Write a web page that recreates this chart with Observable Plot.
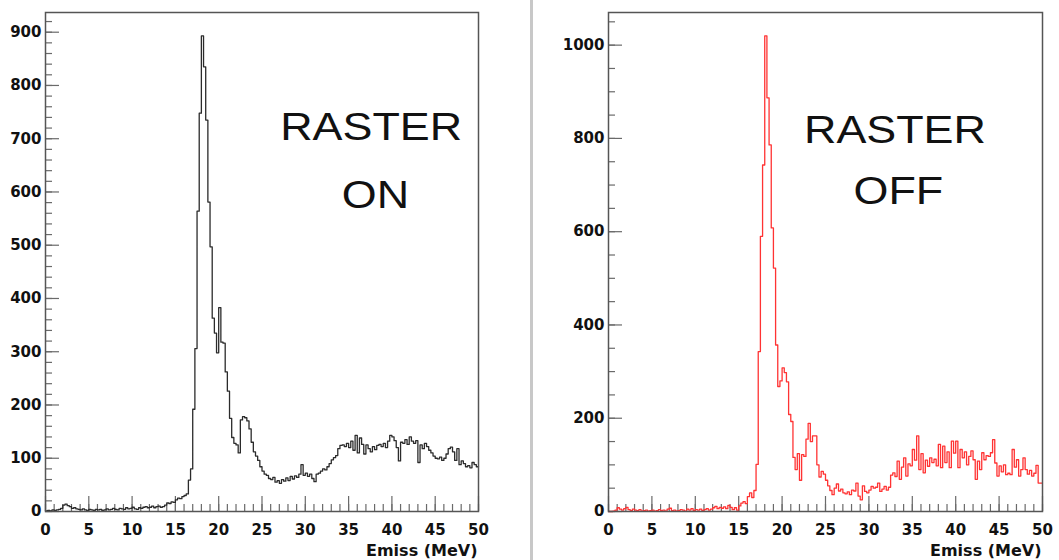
<!DOCTYPE html>
<html><head><meta charset="utf-8">
<script src="https://cdn.jsdelivr.net/npm/d3@7"></script>
<script src="https://cdn.jsdelivr.net/npm/@observablehq/plot@0.6"></script>
<style>
html,body{margin:0;padding:0;background:#fff;}
#wrap{display:flex;width:1059px;height:560px;overflow:hidden;}
#divider{width:3px;background:#c8c8c8;height:560px;flex:none;}
#left,#right{flex:none;}
</style></head><body>
<div id="wrap"><div id="left"></div><div id="divider"></div><div id="right"></div></div>
<script>
// Histogram: 200 bins of 0.25 MeV, 0..50 MeV
const binWidth = 0.25;
const xMax = 50;

// RASTER ON (counts per bin), 4 bins per MeV
const rasterOn = [
  1,2,1,3,   2,3,4,6,   12,14,11,9,  6,7,5,4,
  3,5,3,2,   4,3,2,4,   3,4,2,3,     5,3,4,6,
  4,3,6,5,   4,7,5,6,   8,5,4,7,     6,8,9,7,
  8,10,7,9,  10,8,9,12, 16,15,18,17, 22,25,24,28,
  30,33,59,80,  192,306,564,748,  893,835,735,581,  497,363,335,298,
  383,318,316,262,  226,175,139,128,  125,110,172,178,  176,170,155,130,
  112,104,96,84,  76,70,68,62,  60,64,55,58,  53,60,57,63,
  58,66,61,67,  64,70,88,68,  72,66,70,62,  56,70,72,76,
  80,78,84,90,  97,101,105,118,  124,125,122,128,  120,132,115,143,
  110,138,126,108,  125,118,112,122,  116,124,126,122,  128,120,132,143,
  140,133,120,95,  130,128,135,126,  140,132,128,133,  92,125,118,128,
  122,115,110,104,  100,99,102,96,  100,108,118,121,  112,96,118,88,
  95,90,84,86,  82,92,88,84
];

// RASTER OFF (counts per bin)
const rasterOff = [
  0,0,1,3,   8,5,3,6,   9,4,2,5,   3,2,4,1,
  2,3,1,2,   3,1,2,4,   2,3,1,5,   7,2,3,1,
  2,4,3,1,   5,3,6,2,   4,3,5,2,   4,6,3,5,
  8,11,6,9,  7,10,6,13, 9,4,8,3,   12,18,21,17,
  32,40,30,45,  101,343,590,743,  1020,887,786,608,  522,357,268,280,
  308,298,278,208,  193,116,90,124,  67,122,118,155,  189,150,162,162,
  100,74,86,80,  67,55,45,36,  50,59,44,48,  40,38,42,36,
  46,44,61,33,  25,55,43,40,  46,54,50,52,  61,43,48,54,
  46,52,78,83,  75,108,69,95,  115,76,102,98,  133,110,162,90,
  124,83,110,97,  115,105,112,98,  144,94,140,105,  128,94,151,125,
  151,94,133,115,  128,100,118,130,  111,69,108,90,  126,111,120,118,
  126,154,104,76,  98,85,100,79,  82,79,133,95,  111,76,90,115,
  90,80,88,76,  82,99,61,61
];

const xMajorTicks = d3.range(0, 51, 5);
const xMinorTicks = d3.range(0, 51, 1);
const yOnMajor = d3.range(0, 901, 100);
const yOnMinor = d3.range(0, 921, 20);
const yOffMajor = d3.range(0, 1001, 200);
const yOffMinor = d3.range(0, 1051, 50);

const labelsOn = [{text: "RASTER", x: 37.6, y: 698}, {text: "ON", x: 38.1, y: 569}];
const labelsOff = [{text: "RASTER", x: 33.0, y: 790}, {text: "OFF", x: 33.4, y: 660}];

function toSteps(values) {
  const pts = values.map((v, i) => ({x: i * binWidth, y: v}));
  pts.push({x: xMax, y: values[values.length - 1]});
  return pts;
}

function makePlot({values, color, yMax, yMajor, yMinor, labels, width, marginLeft, marginRight}) {
  const tickStroke = "#6a6a6a";
  return Plot.plot({
    width, height: 560,
    marginLeft, marginRight, marginTop: 12, marginBottom: 49,
    style: {fontFamily: "DejaVu Sans", background: "#fff", overflow: "visible"},
    x: {domain: [0, xMax]},
    y: {domain: [0, yMax]},
    marks: [
      // inward minor / major ticks
      Plot.axisX({ticks: xMinorTicks, tickSize: 7, dy: -7, fill: "none", label: null, stroke: tickStroke, strokeWidth: 1.2}),
      Plot.axisX({ticks: xMajorTicks, tickSize: 15, dy: -15, fill: "none", label: null, stroke: tickStroke, strokeWidth: 1.2}),
      Plot.axisY({ticks: yMinor, tickSize: 7, dx: 7, fill: "none", label: null, stroke: tickStroke, strokeWidth: 1.2}),
      Plot.axisY({ticks: yMajor, tickSize: 14, dx: 14, fill: "none", label: null, stroke: tickStroke, strokeWidth: 1.2}),
      // tick labels
      Plot.axisX({ticks: xMajorTicks, tickSize: 0, tickPadding: 13, tickFormat: d3.format("d"), label: null, fontSize: 15, fontWeight: "bold", fill: "#111"}),
      Plot.axisY({ticks: yMajor, tickSize: 0, tickPadding: 4, tickFormat: d3.format("d"), label: null, fontSize: 15, fontWeight: "bold", fill: "#111"}),
      Plot.text(["Emiss (MeV)"], {frameAnchor: "bottom-right", textAnchor: "end", lineAnchor: "middle", dy: 39, dx: -1, fontSize: 16, fontWeight: "bold", fill: "#111"}),
      // histogram outline
      Plot.line(toSteps(values), {x: "x", y: "y", curve: "step-after", stroke: color, strokeWidth: 1.3}),
      Plot.frame({stroke: "#555", strokeWidth: 1.5}),
      Plot.text(labels, {x: "x", y: "y", text: "text", textAnchor: "middle", lineAnchor: "bottom", fontSize: 39, fontFamily: "Liberation Sans", fontWeight: "normal", fill: "#111"})
    ]
  });
}

const left = makePlot({values: rasterOn, color: "#2b2b2b", yMax: 937, yMajor: yOnMajor, yMinor: yOnMinor, labels: labelsOn, width: 530, marginLeft: 45, marginRight: 52});
const right = makePlot({values: rasterOff, color: "#ff3333", yMax: 1070, yMajor: yOffMajor, yMinor: yOffMinor, labels: labelsOff, width: 526, marginLeft: 75, marginRight: 17});
document.getElementById("left").appendChild(left);
document.getElementById("right").appendChild(right);

// stretch the big annotation labels horizontally as in the original figure
for (const svg of [left, right]) {
  d3.select(svg).selectAll("text").filter(function() {
    return ["RASTER", "ON", "OFF"].includes(this.textContent);
  }).each(function() {
    const w = this.getComputedTextLength();
    d3.select(this).attr("textLength", w * 1.15).attr("lengthAdjust", "spacingAndGlyphs");
  });
}
</script>
</body></html>
